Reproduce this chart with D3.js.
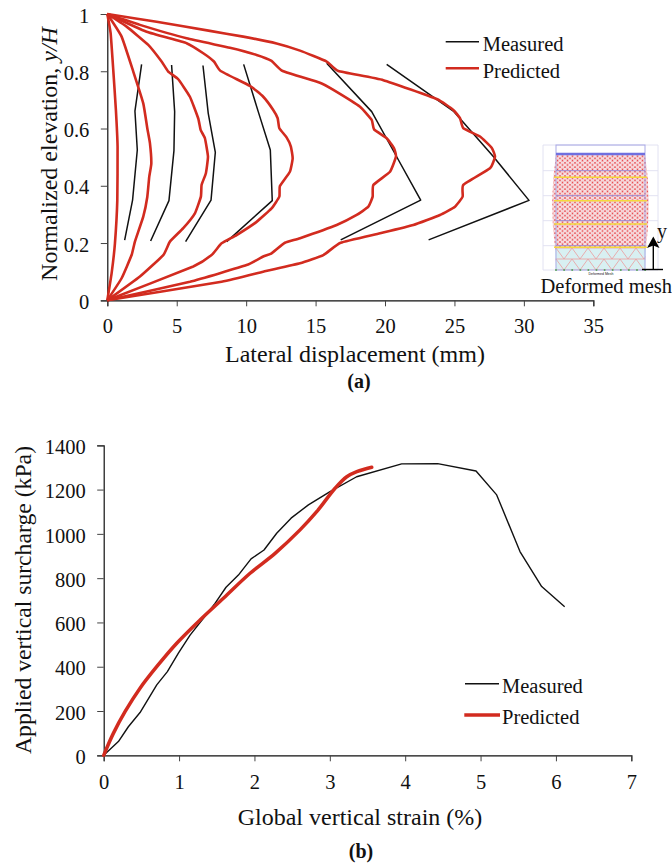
<!DOCTYPE html>
<html>
<head>
<meta charset="utf-8">
<script src="https://cdn.jsdelivr.net/npm/d3@7"></script>
<style>
  html, body { margin: 0; padding: 0; background: #fff; }
  svg { display: block; }
  text { font-family: "Liberation Serif", serif; fill: #111; }
</style>
</head>
<body>
<svg id="fig" width="672" height="863"></svg>
<script>
// panel (a): lateral displacement (mm), normalized elevation
var measuredA = [
  [[1.25,.21],[1.82,.35],[2.16,.525],[1.99,.661],[2.47,.824]],
  [[3.12,.207],[4.44,.348],[4.80,.523],[4.85,.659],[4.63,.822]],
  [[5.64,.205],[7.47,.35],[7.78,.517],[7.27,.653],[6.89,.82]],
  [[8.6,.205],[11.88,.348],[11.74,.525],[10.87,.659],[9.82,.824]],
  [[16.81,.211],[22.57,.35],[20.57,.525],[19.04,.659],[15.8,.828]],
  [[23.14,.211],[30.37,.349],[27.8,.502],[24.92,.661],[20.12,.824]]
];
var predictedA = [
  [[0,1],[.24,.933],[.43,.804],[.62,.664],[.74,.536],[.72,.349],[.55,.199],[.31,.094],[0,0]],
  [[0,1],[1.03,.921],[1.87,.799],[2.59,.688],[2.88,.601],[3.07,.549],[3.17,.478],[3.02,.431],[2.88,.361],[2.59,.292],[1.99,.205],[1.75,.158],[1.03,.077],[0,0]],
  [[0,1],[1.39,.956],[2.95,.892],[3.91,.834],[4.39,.799],[5.11,.772],[5.95,.711],[6.55,.635],[6.72,.595],[7.03,.566],[7.25,.502],[7.10,.444],[6.79,.403],[6.74,.362],[6.31,.304],[5.47,.252],[4.51,.205],[4.03,.158],[2.35,.083],[0,0]],
  [[0,1],[2.83,.938],[5.71,.898],[6.91,.863],[7.68,.834],[8.16,.801],[10.27,.749],[11.23,.711],[11.95,.665],[12.27,.636],[12.39,.601],[12.91,.569],[13.22,.537],[13.35,.496],[13.15,.449],[12.43,.399],[12.39,.362],[11.83,.321],[10.75,.274],[9.31,.228],[8.23,.199],[7.51,.158],[6.19,.118],[0,0]],
  [[0,1],[2.35,.962],[5.71,.915],[8.83,.882],[10.75,.857],[11.83,.836],[12.63,.801],[15.31,.76],[16.28,.735],[18.2,.676],[19.04,.63],[19.21,.597],[20.12,.566],[20.65,.531],[20.79,.502],[20.36,.449],[19.16,.403],[19.11,.362],[18.8,.327],[17.96,.298],[16.52,.263],[13.88,.217],[12.79,.201],[11.83,.164],[11.23,.153],[10.03,.123],[5.95,.065],[0,0]],
  [[0,1],[3.55,.973],[7.39,.941],[9.79,.921],[12.19,.897],[13.88,.872],[15.8,.834],[16.64,.801],[19.88,.769],[23.72,.703],[24.92,.665],[25.4,.636],[25.64,.601],[26.84,.572],[27.68,.533],[27.92,.502],[27.56,.461],[25.64,.403],[25.59,.362],[25.04,.327],[23.96,.298],[22.04,.263],[19.64,.234],[16.8,.201],[15.56,.158],[13.88,.129],[11.23,.1],[8.23,.065],[0,0]]
];
// panel (b): global vertical strain (%), surcharge (kPa)
var measuredB = [[0,0],[.195,62],[.327,129],[.482,193],[.704,318],[.845,378],[.991,461],[1.146,543],[1.323,619],[1.477,686],[1.623,759],[1.787,814],[1.955,887],[2.127,927],[2.295,1003],[2.486,1071],[2.716,1131],[3.003,1191],[3.356,1258],[3.953,1316],[4.431,1317],[4.94,1284],[5.214,1176],[5.523,920],[5.811,762],[6.116,671]];
var predictedB = [[0,0],[.128,99],[.283,197],[.482,303],[.703,400],[.969,506],[1.278,611],[1.588,709],[1.942,822],[2.274,912],[2.605,1018],[2.826,1100],[3.07,1206],[3.225,1258],[3.358,1281],[3.556,1301]];

var xTicksA = [0,5,10,15,20,25,30,35];
var yTicksA = [0,.2,.4,.6,.8,1];
var xTicksB = [0,1,2,3,4,5,6,7];
var yTicksB = [0,200,400,600,800,1000,1200,1400];

var RED = "#d22b1f", BLACK = "#111";
var svg = d3.select("#fig");

function drawAxes(x, y, xTicks, yTicks, fmtY, padX) {
  var xAxis = d3.axisBottom(x).tickValues(xTicks).tickSize(6).tickPadding(padX).tickFormat(d3.format("d"));
  var yAxis = d3.axisLeft(y).tickValues(yTicks).tickSize(6.5).tickPadding(11.5).tickFormat(fmtY);
  var gx = svg.append("g").attr("transform", "translate(0," + y.range()[0] + ")").call(xAxis);
  var gy = svg.append("g").attr("transform", "translate(" + x.range()[0] + ",0)").call(yAxis);
  [gx, gy].forEach(function(g) {
    g.selectAll("path").attr("stroke", "#111").attr("stroke-width", 1.2);
    g.selectAll("line").attr("stroke", "#444").attr("stroke-width", 1);
    g.selectAll("text").style("font-size", "20.5px").style("font-family", '"Liberation Serif", serif').attr("fill", "#111");
  });
  gy.selectAll("text").attr("dy", "0.4em");
}

function legend(x1, x2, y, sw, tx, ty, label, color) {
  svg.append("line").attr("x1", x1).attr("x2", x2).attr("y1", y).attr("y2", y)
    .attr("stroke", color).attr("stroke-width", sw);
  svg.append("text").attr("x", tx).attr("y", ty).style("font-size", "20.5px").text(label);
}

// ---- panel a
var xA = d3.scaleLinear().domain([0, 35]).range([107.3, 593.3]);
var yA = d3.scaleLinear().domain([0, 1]).range([300.3, 14]);
drawAxes(xA, yA, xTicksA, yTicksA, function(d) { return d === 0 || d === 1 ? d : d3.format(".1f")(d); }, 12.4);
var lineA = d3.line().x(function(d) { return xA(d[0]); }).y(function(d) { return yA(d[1]); });
var smoothA = d3.line().curve(d3.curveCardinal.tension(0.6)).x(lineA.x()).y(lineA.y());

measuredA.forEach(function(s) {
  svg.append("path").datum(s).attr("d", lineA).attr("fill", "none")
    .attr("stroke", BLACK).attr("stroke-width", 1.5).attr("stroke-linejoin", "round");
});
predictedA.forEach(function(s) {
  svg.append("path").datum(s).attr("d", smoothA).attr("fill", "none")
    .attr("stroke", RED).attr("stroke-width", 2.6).attr("stroke-linejoin", "round");
});

legend(445.7, 479, 41.7, 1.6, 482.7, 51, "Measured", BLACK);
legend(445.7, 479, 68.3, 2.6, 482.7, 77.7, "Predicted", RED);

svg.append("text").attr("text-anchor", "middle").attr("x", 355).attr("y", 362.3)
  .style("font-size", "24px").text("Lateral displacement (mm)");
var ylabA = svg.append("text").attr("text-anchor", "middle")
  .attr("transform", "translate(56.7,154) rotate(-90)").style("font-size", "24px");
ylabA.append("tspan").text("Normalized elevation, ");
ylabA.append("tspan").style("font-style", "italic").text("y/H");
svg.append("text").attr("text-anchor", "middle").attr("x", 359).attr("y", 388)
  .style("font-size", "20px").style("font-weight", "bold").text("(a)");

// ---- inset mesh (schematic)
var inset = svg.append("g");
var defs = svg.append("defs");
defs.append("filter").attr("id", "soft").append("feGaussianBlur").attr("stdDeviation", 0.45);
var pat = defs.append("pattern").attr("id", "fine").attr("width", 5).attr("height", 4.4)
  .attr("patternUnits", "userSpaceOnUse");
pat.append("rect").attr("width", 5).attr("height", 4.4).attr("fill", "#f6dfe2");
pat.append("path").attr("d", "M0 0L5 0M2.5 2.2L0 0M2.5 2.2L5 0M2.5 2.2L0 4.4M2.5 2.2L5 4.4")
  .attr("fill", "none").attr("stroke", "#f0a0a4").attr("stroke-width", .4);
[[2.5,2.2],[0,0],[5,0],[0,4.4],[5,4.4]].forEach(function(p) {
  pat.append("circle").attr("cx", p[0]).attr("cy", p[1]).attr("r", .8).attr("fill", "#e8474d");
});
var patC = defs.append("pattern").attr("id", "coarse").attr("width", 16).attr("height", 11)
  .attr("patternUnits", "userSpaceOnUse").attr("x", 556).attr("y", 248);
patC.append("rect").attr("width", 16).attr("height", 11).attr("fill", "#d8f0f2");
patC.append("path").attr("d", "M0 0L16 0M0 0L8 11L16 0M0 11L16 11")
  .attr("fill", "none").attr("stroke", "#eb9a9c").attr("stroke-width", .8);

var mesh = inset.append("g").attr("filter", "url(#soft)");
[145, 170.7, 195.7, 220.7, 245.7, 270].forEach(function(yy) {
  mesh.append("line").attr("x1", 543).attr("x2", 658).attr("y1", yy).attr("y2", yy).attr("stroke", "#e2e2f2").attr("stroke-width", 1);
});
[543, 658].forEach(function(xx) {
  mesh.append("line").attr("x1", xx).attr("x2", xx).attr("y1", 145).attr("y2", 270).attr("stroke", "#e2e2f2").attr("stroke-width", 1);
});
mesh.append("path").attr("d", "M556 154Q549 201 555 248L646 248Q652 201 645 154Z").attr("fill", "url(#fine)");
mesh.append("path").attr("d", "M555 248L556 270L645 270L646 248Z").attr("fill", "url(#coarse)");
mesh.append("rect").attr("x", 556).attr("y", 145).attr("width", 89).attr("height", 125)
  .attr("fill", "none").attr("stroke", "#a9a9e6").attr("stroke-width", 1);
mesh.append("line").attr("x1", 556).attr("x2", 645).attr("y1", 154).attr("y2", 154).attr("stroke", "#6f6fe0").attr("stroke-width", 2.4);
[170.7, 195.7, 220.7, 245.7].forEach(function(yy) {
  mesh.append("line").attr("x1", 556).attr("x2", 645).attr("y1", yy).attr("y2", yy).attr("stroke", "#9a88d0").attr("stroke-width", 1);
});
[177.3, 200.7, 224, 247.3].forEach(function(yy) {
  mesh.append("line").attr("x1", 554).attr("x2", 647).attr("y1", yy).attr("y2", yy).attr("stroke", "#f5d93c").attr("stroke-width", 1.6);
});
d3.range(556, 646, 8.1).forEach(function(xx) {
  mesh.append("circle").attr("cx", xx).attr("cy", 270).attr("r", 1).attr("fill", "#5aa55a");
});
inset.append("text").attr("x", 601).attr("y", 274.5).attr("text-anchor", "middle")
  .style("font-size", "3.5px").style("font-family", "Liberation Sans").text("Deformed Mesh");
// arrow
inset.append("line").attr("x1", 653.3).attr("x2", 653.3).attr("y1", 269.5).attr("y2", 245).attr("stroke", "#000").attr("stroke-width", 1.4);
inset.append("line").attr("x1", 642).attr("x2", 663).attr("y1", 269.5).attr("y2", 269.5).attr("stroke", "#000").attr("stroke-width", 1.4);
inset.append("path").attr("d", "M653.3 236.5L659.5 248L653.3 245.5L647 248Z").attr("fill", "#000");
inset.append("text").attr("x", 657).attr("y", 238).style("font-size", "20px").text("y");
inset.append("text").attr("x", 540.5).attr("y", 292.7).style("font-size", "20.5px").text("Deformed mesh");

// ---- panel b
var xB = d3.scaleLinear().domain([0, 7]).range([103.7, 631.3]);
var yB = d3.scaleLinear().domain([0, 1400]).range([755.3, 445.3]);
drawAxes(xB, yB, xTicksB, yTicksB, d3.format("d"), 13);
var lineB = d3.line().x(function(d) { return xB(d[0]); }).y(function(d) { return yB(d[1]); });
var smoothB = d3.line().curve(d3.curveCatmullRom.alpha(0.5)).x(lineB.x()).y(lineB.y());
svg.append("path").datum(measuredB).attr("d", lineB).attr("fill", "none")
  .attr("stroke", BLACK).attr("stroke-width", 1.4).attr("stroke-linejoin", "round");
svg.append("path").datum(predictedB).attr("d", smoothB).attr("fill", "none")
  .attr("stroke", RED).attr("stroke-width", 3.5).attr("stroke-linejoin", "round").attr("stroke-linecap", "round");

legend(465, 499, 683.7, 1.4, 502, 693.3, "Measured", BLACK);
legend(464.3, 500, 715, 3.5, 502, 724.3, "Predicted", RED);

svg.append("text").attr("text-anchor", "middle").attr("x", 360).attr("y", 824.5)
  .style("font-size", "24px").text("Global vertical strain (%)");
svg.append("text").attr("text-anchor", "middle")
  .attr("transform", "translate(30.7,600) rotate(-90)").style("font-size", "23.7px")
  .text("Applied vertical surcharge (kPa)");
svg.append("text").attr("text-anchor", "middle").attr("x", 361).attr("y", 858)
  .style("font-size", "20px").style("font-weight", "bold").text("(b)");
</script>
</body>
</html>
